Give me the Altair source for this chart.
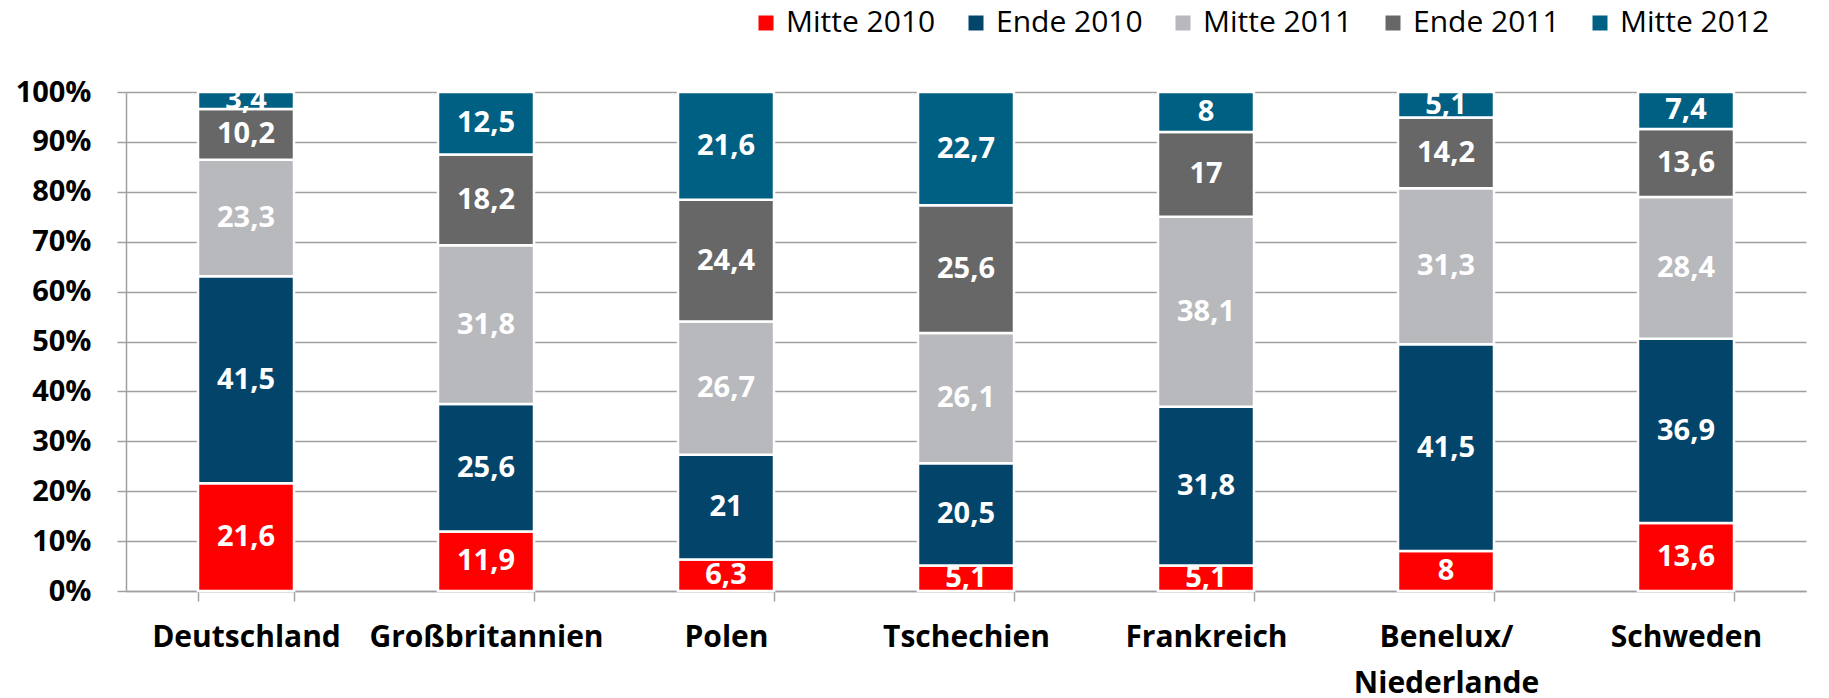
import altair as alt
import pandas as pd

countries = ["Deutschland", "Großbritannien", "Polen", "Tschechien", "Frankreich", "Benelux/ Niederlande", "Schweden"]
series = ["Mitte 2010", "Ende 2010", "Mitte 2011", "Ende 2011", "Mitte 2012"]
colors = ["#FF0000", "#03456A", "#B7B9BC", "#676767", "#006084"]

mitte_2010 = [21.6, 11.9, 6.3, 5.1, 5.1, 8, 13.6]
ende_2010 = [41.5, 25.6, 21, 20.5, 31.8, 41.5, 36.9]
mitte_2011 = [23.3, 31.8, 26.7, 26.1, 38.1, 31.3, 28.4]
ende_2011 = [10.2, 18.2, 24.4, 25.6, 17, 14.2, 13.6]
mitte_2012 = [3.4, 12.5, 21.6, 22.7, 8, 5.1, 7.4]

values = [mitte_2010, ende_2010, mitte_2011, ende_2011, mitte_2012]

def fmt(v):
    if float(v).is_integer():
        return str(int(v))
    return str(v).replace(".", ",")

rows = []
for si, (s, vals) in enumerate(zip(series, values)):
    for c, v in zip(countries, vals):
        rows.append({"country": c, "series": s, "order": si, "value": v, "label": fmt(v)})
df = pd.DataFrame(rows)

FONT = "Open Sans"

base = alt.Chart(df).transform_joinaggregate(
    total="sum(value)", groupby=["country"]
).transform_calculate(
    pct="datum.value / datum.total"
).transform_stack(
    stack="pct", groupby=["country"], as_=["y0", "y1"],
    sort=[alt.SortField("order", order="ascending")]
).transform_calculate(
    mid="(datum.y0 + datum.y1) / 2"
)

x_enc = alt.X(
    "country:N", sort=countries, title=None,
    scale=alt.Scale(paddingInner=0.6, paddingOuter=0.3),
    axis=alt.Axis(
        labelAngle=0, labelFont=FONT, labelFontSize=30, labelFontWeight="bold",
        labelColor="#000000", labelPadding=21, labelLineHeight=46, labelBaseline="top",
        labelExpr="split(datum.label, ' ')", labelLimit=400,
        domainColor="#A0A0A0", domainWidth=1.5, tickColor="#A0A0A0", tickWidth=1.5,
        tickSize=10, tickBand="extent", grid=False,
    ),
)

bars = base.mark_bar(stroke="white", strokeWidth=2.5).encode(
    x=x_enc,
    y=alt.Y(
        "y0:Q", title=None,
        scale=alt.Scale(domain=[0, 1], nice=False),
        axis=alt.Axis(
            format="%", values=[i / 10 for i in range(11)],
            labelFont=FONT, labelFontSize=29, labelFontWeight="bold", labelColor="#000000",
            labelPadding=26, tickSize=9, tickColor="#A0A0A0", tickWidth=1.5,
            domainColor="#A0A0A0", domainWidth=1.5,
            grid=True, gridColor="#A0A0A0", gridWidth=1.5,
        ),
    ),
    y2="y1:Q",
    color=alt.Color(
        "series:N", sort=series, title=None,
        scale=alt.Scale(domain=series, range=colors),
        legend=alt.Legend(
            orient="none", direction="horizontal", legendX=625, legendY=-84,
            symbolType="square", symbolSize=225, symbolStrokeWidth=0,
            labelFont=FONT, labelFontSize=30, labelColor="#000000",
            labelOffset=5, columnPadding=25, padding=0, labelLimit=400,
        ),
    ),
)

texts = base.mark_text(
    font=FONT, fontSize=29, fontWeight="bold", color="white", baseline="middle", align="center"
).encode(
    x=alt.X("country:N", sort=countries),
    y=alt.Y("mid:Q"),
    text="label:N",
)

chart = alt.layer(bars, texts).properties(
    width=1680, height=499,
    autosize=alt.AutoSizeParams(type="none"),
    padding={"left": 118, "top": 84, "right": 15, "bottom": 108},
).configure_view(stroke=None)

chart.save("out.html", embed_options={"renderer": "svg", "actions": False})
